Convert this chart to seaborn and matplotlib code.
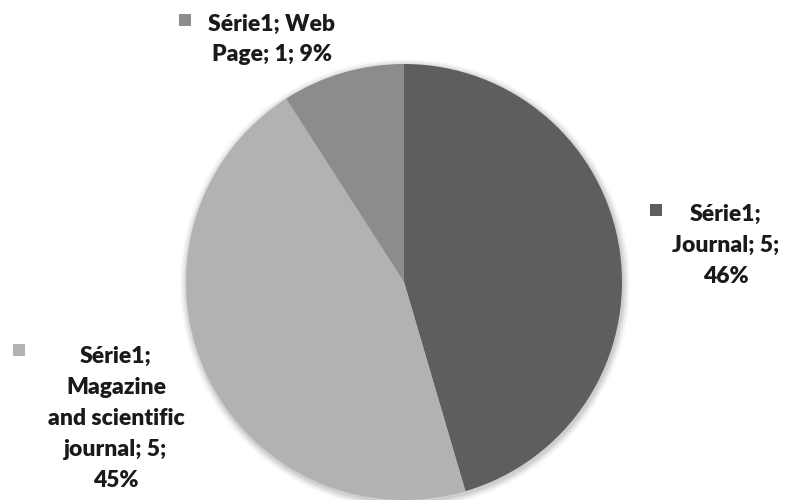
import matplotlib
matplotlib.use("Agg")
import matplotlib.pyplot as plt
import seaborn as sns
from matplotlib.patches import Rectangle, Circle

series = "Série1"
categories = ["Journal", "Magazine and scientific journal", "Web Page"]
values = [5, 5, 1]
pct_labels = ["46%", "45%", "9%"]
label_lines = [
    ["Série1;", "Journal; 5;", "46%"],
    ["Série1;", "Magazine", "and scientific", "journal; 5;", "45%"],
    ["Série1; Web", "Page; 1; 9%"],
]
colors = ["#5e5e5e", "#b2b2b2", "#8c8c8c"]

sns.set_theme(style="white")
plt.rcParams['font.family'] = ['Lato', 'DejaVu Sans']

W, H = 797, 500
fig = plt.figure(figsize=(W / 100, H / 100), dpi=100)
ax = fig.add_axes([0, 0, 1, 1])

cx, cy, r = 404, H - 282, 218
# soft shadow
for i, a in enumerate([0.05, 0.05, 0.045, 0.035, 0.025]):
    ax.add_patch(Circle((cx + 1, cy - 2), r + 1.0 + i * 1.5, color="black", alpha=a, lw=0, zorder=0))

ax.pie(values, colors=colors, startangle=90, counterclock=False,
       center=(cx, cy), radius=r, frame=True,
       wedgeprops=dict(linewidth=0))
ax.set_xlim(0, W)
ax.set_ylim(0, H)
ax.set_aspect("equal")
ax.axis("off")

# label layout: (text center x, first baseline y px, line step px, square x, square y)
layouts = [
    (726, 221, 31, 650, 204),
    (116, 363, 31, 13, 344),
    (272, 31, 30, 179, 14),
]
fs = 16.5
for (tx, ty, step, sx, sy), lines, col in zip(layouts, label_lines, colors):
    for k, line in enumerate(lines):
        ax.text(tx, H - (ty + k * step), line, ha="center", va="baseline",
                fontsize=fs, fontweight="heavy", color="#1a1a1a")
    ax.add_patch(Rectangle((sx, H - sy - 12), 12, 12, color=col, lw=0))

fig.savefig("out.png", dpi=100)
